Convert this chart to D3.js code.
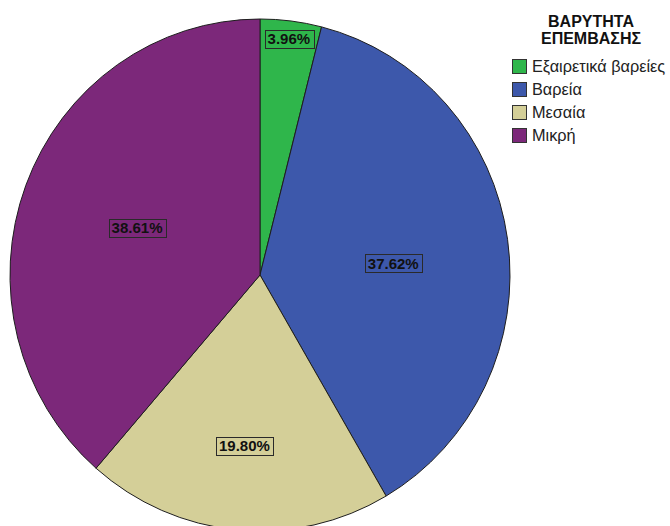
<!DOCTYPE html>
<html>
<head>
<meta charset="utf-8">
<script src="https://cdn.jsdelivr.net/npm/d3@7"></script>
<style>
html,body{margin:0;padding:0;background:#fff;}
svg{display:block;font-family:"Liberation Sans",Arial,sans-serif;}
</style>
</head>
<body>
<svg id="chart" width="670" height="526"></svg>
<script>
// Data
const categories = ["Εξαιρετικά βαρείες", "Βαρεία", "Μεσαία", "Μικρή"];
const percents = [3.96, 37.62, 19.80, 38.61];
const legendTitle = ["ΒΑΡΥΤΗΤΑ", "ΕΠΕΜΒΑΣΗΣ"];

// Styles / layout
const colors = ["#2fb64b", "#3d58ab", "#d4cf98", "#7c287a"];
const labelRadiusFrac = [0.93, 0.535, 0.67, 0.525];
const labelAngleShift = [0, 3, 0, 0];
const cx = 260, cy = 275, R = 250, yScale = 1.024;

const svg = d3.select("#chart");
const data = categories.map((c, i) => ({cat: c, value: percents[i], color: colors[i], lf: labelRadiusFrac[i], la: labelAngleShift[i]}));

const pie = d3.pie().sort(null).value(d => d.value);
const arcs = pie(data);
const arc = d3.arc().innerRadius(0).outerRadius(R);

const g = svg.append("g").attr("transform", `translate(${cx},${cy}) scale(1,${yScale})`);
g.selectAll("path.slice").data(arcs).enter().append("path")
  .attr("class", "slice")
  .attr("d", arc)
  .attr("fill", d => d.data.color)
  .attr("stroke", "#1e1e1e")
  .attr("stroke-width", 1)
  .attr("vector-effect", "non-scaling-stroke")
  .attr("stroke-linejoin", "round");

// labels
const lg = svg.append("g");
arcs.forEach(a => {
  const mid = (a.startAngle + a.endAngle) / 2 + a.data.la * Math.PI / 180;
  const r = R * a.data.lf;
  const x = cx + r * Math.sin(mid);
  const y = cy - r * Math.cos(mid) * yScale;
  const txt = a.data.value.toFixed(2) + "%";
  const t = lg.append("text")
    .attr("x", x).attr("y", y)
    .attr("text-anchor", "middle")
    .attr("dominant-baseline", "central")
    .attr("font-size", 15).attr("font-weight", "bold")
    .attr("fill", "#111")
    .text(txt);
  const bb = t.node().getBBox();
  lg.insert("rect", "text")
    .attr("x", Math.round(bb.x - 3) + 0.5)
    .attr("y", Math.round(y - 9) + 0.5)
    .attr("width", Math.round(bb.width + 6))
    .attr("height", 18)
    .attr("fill", a.data.color)
    .attr("stroke", "#2a2a2a")
    .attr("stroke-width", 1);
});

// legend
const leg = svg.append("g");
legendTitle.forEach((s, i) => {
  leg.append("text")
    .attr("x", 591).attr("y", 27 + i * 17)
    .attr("text-anchor", "middle")
    .attr("font-size", 16).attr("font-weight", "bold")
    .attr("fill", "#111")
    .text(s);
});
data.forEach((d, i) => {
  const y0 = 59 + i * 23;
  leg.append("rect")
    .attr("x", 512.5).attr("y", y0 + 0.5)
    .attr("width", 14).attr("height", 14)
    .attr("fill", d.color)
    .attr("stroke", "#333").attr("stroke-width", 1);
  leg.append("text")
    .attr("x", 532).attr("y", y0 + 13)
    .attr("font-size", 16.3)
    .attr("fill", "#222")
    .text(d.cat);
});
</script>
</body>
</html>
